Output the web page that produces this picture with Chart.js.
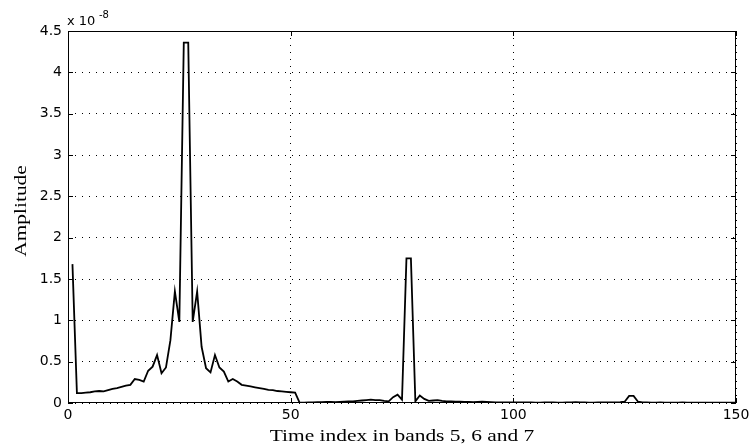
<!DOCTYPE html>
<html lang="en">
<head>
    <meta charset="UTF-8">
    <title>Amplitude vs time index</title>
    <script src="https://cdn.jsdelivr.net/npm/chart.js"></script>
    <style>
        html, body {
            margin: 0;
            padding: 0;
            background-color: #fff;
        }
        #grafica {
            display: block;
        }
    </style>
</head>
<body>
    <canvas id="grafica" width="755" height="446"></canvas>

    <script>
        // Amplitude (x 10^-8), one value per time index starting at 1
        const amplitude = [
            1.68, 0.12, 0.12, 0.125, 0.13, 0.14, 0.145, 0.14, 0.155, 0.17,
            0.18, 0.195, 0.21, 0.22, 0.29, 0.28, 0.26, 0.39, 0.44, 0.58,
            0.36, 0.43, 0.76, 1.35, 0.98, 4.36, 4.36, 0.98, 1.35, 0.68,
            0.42, 0.37, 0.58, 0.43, 0.38, 0.26, 0.29, 0.26, 0.22, 0.21,
            0.2, 0.19, 0.18, 0.17, 0.16, 0.155, 0.145, 0.14, 0.135, 0.13,
            0.125, 0.005, 0.005, 0.006, 0.008, 0.01, 0.01, 0.012, 0.012, 0.01,
            0.012, 0.015, 0.018, 0.02, 0.025, 0.03, 0.035, 0.04, 0.035, 0.035,
            0.025, 0.02, 0.07, 0.1, 0.04, 1.75, 1.75, 0.02, 0.09, 0.05,
            0.025, 0.03, 0.035, 0.025, 0.02, 0.018, 0.015, 0.015, 0.012, 0.012,
            0.01, 0.012, 0.015, 0.012, 0.01, 0.008, 0.008, 0.007, 0.006, 0.006,
            0.007, 0.008, 0.007, 0.006, 0.005, 0.005, 0.006, 0.007, 0.006, 0.005,
            0.005, 0.006, 0.008, 0.01, 0.008, 0.006, 0.005, 0.005, 0.006, 0.007,
            0.006, 0.007, 0.008, 0.01, 0.015, 0.085, 0.085, 0.015, 0.008, 0.006,
            0.005, 0.005, 0.006, 0.005, 0.005, 0.004, 0.005, 0.006, 0.005, 0.004,
            0.004, 0.005, 0.005, 0.004, 0.004, 0.005, 0.004, 0.004, 0.004, 0.004
        ];
        const timeIndex = amplitude.map((_, i) => i + 1);

        const xTicks = [0, 50, 100, 150];
        const yTicks = [0, 0.5, 1, 1.5, 2, 2.5, 3, 3.5, 4, 4.5];

        const xTitle = 'Time index in bands 5, 6 and 7';
        const yTitle = 'Amplitude';
        const expBase = 'x 10';
        const expPower = '-8';

        // Caja, marcas hacia dentro y textos estilo MATLAB
        const marco = {
            id: 'marco',
            afterDraw(chart) {
                const { ctx, chartArea: a, scales: { x, y } } = chart;
                ctx.save();
                ctx.strokeStyle = '#000';
                ctx.lineWidth = 1;
                ctx.setLineDash([]);
                ctx.strokeRect(a.left + 0.5, a.top + 0.5, a.right - a.left - 1, a.bottom - a.top - 1);

                ctx.beginPath();
                xTicks.forEach(v => {
                    const px = Math.round(x.getPixelForValue(v)) + 0.5;
                    ctx.moveTo(px, a.bottom); ctx.lineTo(px, a.bottom - 5);
                    ctx.moveTo(px, a.top); ctx.lineTo(px, a.top + 5);
                });
                yTicks.forEach(v => {
                    const py = Math.round(y.getPixelForValue(v)) + 0.5;
                    ctx.moveTo(a.left, py); ctx.lineTo(a.left + 5, py);
                    ctx.moveTo(a.right, py); ctx.lineTo(a.right - 5, py);
                });
                ctx.stroke();

                ctx.fillStyle = '#000';
                ctx.textAlign = 'center';
                ctx.textBaseline = 'middle';

                // titulo eje x (texto ancho como en el original)
                ctx.font = '17px "Liberation Serif", "Times New Roman", serif';
                ctx.save();
                ctx.translate((a.left + a.right) / 2, 437);
                ctx.scale(1.26, 1);
                ctx.fillText(xTitle, 0, 0);
                ctx.restore();

                // titulo eje y
                ctx.save();
                ctx.translate(22, 211);
                ctx.rotate(-Math.PI / 2);
                ctx.scale(1.26, 1);
                ctx.fillText(yTitle, 0, 0);
                ctx.restore();

                // exponente
                ctx.textAlign = 'left';
                ctx.font = '13px "DejaVu Sans", sans-serif';
                ctx.fillText(expBase, a.left - 1, 22);
                ctx.font = '10px "DejaVu Sans", sans-serif';
                ctx.fillText(expPower, a.left + 31, 15);

                ctx.restore();
            }
        };

        const tickFont = { family: '"DejaVu Sans", sans-serif', size: 14 };

        new Chart(document.getElementById('grafica').getContext('2d'), {
            type: 'line',
            data: {
                datasets: [{
                    data: timeIndex.map((t, i) => ({ x: t, y: amplitude[i] })),
                    borderColor: '#000',
                    borderWidth: 1.8,
                    pointRadius: 0,
                    tension: 0,
                    fill: false
                }]
            },
            options: {
                responsive: false,
                animation: false,
                layout: { padding: { top: 31, right: 19, left: 0, bottom: 0 } },
                plugins: {
                    legend: { display: false },
                    tooltip: { enabled: false }
                },
                scales: {
                    x: {
                        type: 'linear',
                        min: 0,
                        max: 150,
                        afterBuildTicks: s => { s.ticks = xTicks.map(v => ({ value: v })); },
                        afterFit: s => { s.height = 43; },
                        ticks: {
                            color: '#000',
                            font: tickFont,
                            padding: 4,
                            maxRotation: 0,
                            callback: v => String(v)
                        },
                        grid: { color: '#000', lineWidth: 1, drawTicks: false },
                        border: { display: false, dash: [1, 6] }
                    },
                    y: {
                        min: 0,
                        max: 4.5,
                        afterBuildTicks: s => { s.ticks = yTicks.map(v => ({ value: v })); },
                        afterFit: s => { s.width = 68; },
                        ticks: {
                            color: '#000',
                            font: tickFont,
                            padding: 6,
                            callback: v => String(+v.toFixed(2))
                        },
                        grid: { color: '#000', lineWidth: 1, drawTicks: false },
                        border: { display: false, dash: [1, 6] }
                    }
                }
            },
            plugins: [marco]
        });
    </script>
</body>
</html>
